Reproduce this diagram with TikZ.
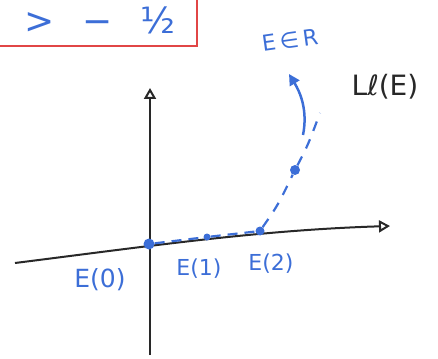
\documentclass[tikz,border=0pt]{standalone}
\usepackage{fontspec}
\setmainfont{DejaVu Sans}
\usetikzlibrary{arrows.meta}
\definecolor{pen}{RGB}{60,110,215}
\definecolor{redpen}{RGB}{225,70,70}
\definecolor{ink}{RGB}{40,40,40}
\tikzset{
  axis/.style={ink, line width=2pt, -{Triangle[open,length=11pt,width=12pt,line width=2pt]}},
  pt/.style={circle, fill=pen, inner sep=0pt, minimum size=#1},
  lab/.style={pen, font=\fontsize{22}{22}\selectfont, inner sep=1pt},
}
\begin{document}
\begin{tikzpicture}[x=1pt,y=-1pt]
\useasboundingbox (0,0) rectangle (438,358);
% red box
\draw[redpen, line width=2pt] (-5,46) -- (197,46) -- (197,-5);
\node[pen, font=\fontsize{36}{36}\selectfont, anchor=center] (ineq) at (100,20) {>\;\, −\;\, ½};
% axes
\coordinate (yb) at (150,355);
\coordinate (yt) at (150,88);
\coordinate (xl) at (15,263);
\coordinate (xr) at (390,226);
\draw[axis] (yb) -- (yt);
\draw[axis] (xl) .. controls (150,246) and (260,230) .. (xr);
% points
\node[pt=11pt] (e0) at (149,244) {};
\node[pt=7pt] (e1) at (207,237) {};
\node[pt=9pt] (e2) at (260,231) {};
\node[pt=10pt] (e3) at (295,170) {};
\coordinate (dend) at (320,113);
\draw[pen, line width=2.2pt, dash pattern=on 10pt off 7pt] (e0) -- (e1) -- (e2);
\draw[pen, line width=2.2pt, dash pattern=on 10pt off 9pt] (e2) .. controls (278,205) .. (e3) .. controls (308,145) .. (dend);
% arrow
\coordinate (as) at (303,135);
\coordinate (ae) at (289,74);
\draw[pen, line width=2.5pt, -{Triangle[length=11pt,width=11pt]}] (as) .. controls (308,110) and (300,92) .. (ae);
% labels
\node[lab, font=\fontsize{25}{25}\selectfont] (l0) at (100,280) {E(0)};
\node[lab] (l1) at (199,269) {E(1)};
\node[lab] (l2) at (271,264) {E(2)};
\node[lab, rotate=8] (er) at (290,40) {E\kern4pt∈\kern4pt R};
\node[ink, font=\fontsize{28}{28}\selectfont] (le) at (385,87) {Lℓ(E)};
\end{tikzpicture}
\end{document}
